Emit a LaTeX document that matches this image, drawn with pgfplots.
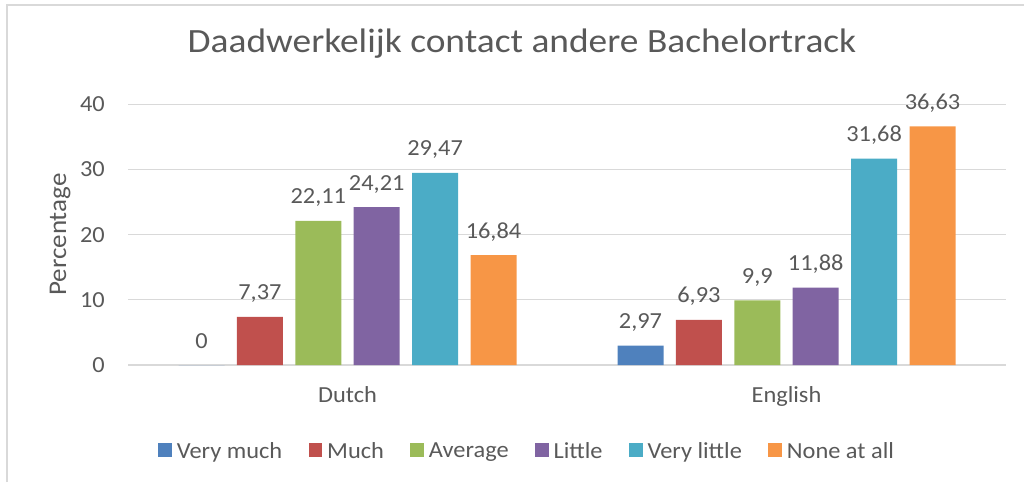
\documentclass[border=0pt]{standalone}
\usepackage{fontspec}
\setmainfont[FakeStretch=1.06]{Carlito}
\newfontfamily\titlefont[FakeStretch=1.1]{Carlito}
\usepackage{pgfplots}
\pgfplotsset{compat=1.18}
\definecolor{c1}{HTML}{4F81BD}
\definecolor{c2}{HTML}{C0504D}
\definecolor{c3}{HTML}{9BBB59}
\definecolor{c4}{HTML}{8064A2}
\definecolor{c5}{HTML}{4BACC6}
\definecolor{c6}{HTML}{F79646}
\definecolor{txt}{HTML}{595959}
\definecolor{grd}{HTML}{D9D9D9}
\begin{document}
\begin{tikzpicture}
\useasboundingbox (0pt,0pt) rectangle (1024pt,482pt);
\draw[grd, line width=1.5pt] (7pt,0pt) -- (7pt,477pt) -- (1024pt,477pt);
\begin{axis}[
  at={(128pt,117pt)}, anchor=south west,
  scale only axis, width=878pt, height=260.7pt,
  ymin=0, ymax=40, ytick={0,10,20,30,40},
  xmin=-0.5, xmax=1.5, xtick={0,1}, xticklabels={Dutch,English},
  ybar=12.4pt, bar width=46pt,
  axis line style={draw=none}, major tick length=0pt,
  ymajorgrids, grid style={grd, line width=1.3pt},
  font=\fontsize{23}{27}\selectfont,
  /pgf/number format/assume math mode=true,
  every tick label/.append style={text=txt, font=\fontsize{23}{27}\selectfont},
  yticklabel style={anchor=east, inner sep=0pt, xshift=-23pt},
  xticklabel style={anchor=base, inner sep=0pt, yshift=-37pt},
  ylabel={Percentage},
  every axis y label/.style={at={(axis description cs:-0.0774,0.5)}, rotate=90, anchor=center, text=txt, font=\fontsize{25.5}{30}\selectfont},
  title={Daadwerkelijk contact andere Bachelortrack},
  title style={at={(axis description cs:0.4487,1.1738)}, anchor=base, inner sep=0pt, text=txt, font=\titlefont\fontsize{34}{39}\selectfont},
  nodes near coords={\pgfmathprintnumber[use comma, fixed, precision=2, assume math mode=true]{\pgfplotspointmeta}},
  every node near coord/.append style={anchor=base, inner sep=0pt, yshift=17pt, text=txt, font=\fontsize{23}{27}\selectfont},
  legend columns=6,
  legend style={at={(axis description cs:0.4535,-0.330)}, anchor=center, draw=none, fill=none,
    inner sep=0pt, nodes={inner sep=0pt, text=txt, font=\fontsize{23}{27}\selectfont},
    /tikz/every odd column/.style={column sep=5pt},
    /tikz/every even column/.style={column sep=26.5pt}},
  legend image code/.code={\fill[#1] (0pt,-5.5pt) rectangle (13.5pt,8pt);},
  clip=false,
]
\addplot[fill=c1, draw=none] coordinates {(0,0) (1,2.97)};
\addplot[fill=c2, draw=none] coordinates {(0,7.37) (1,6.93)};
\addplot[fill=c3, draw=none] coordinates {(0,22.11) (1,9.9)};
\addplot[fill=c4, draw=none] coordinates {(0,24.21) (1,11.88)};
\addplot[fill=c5, draw=none] coordinates {(0,29.47) (1,31.68)};
\addplot[fill=c6, draw=none] coordinates {(0,16.84) (1,36.63)};
\legend{Very much, Much, Average, Little, Very little, None at all}
\end{axis}
\end{tikzpicture}
\end{document}
